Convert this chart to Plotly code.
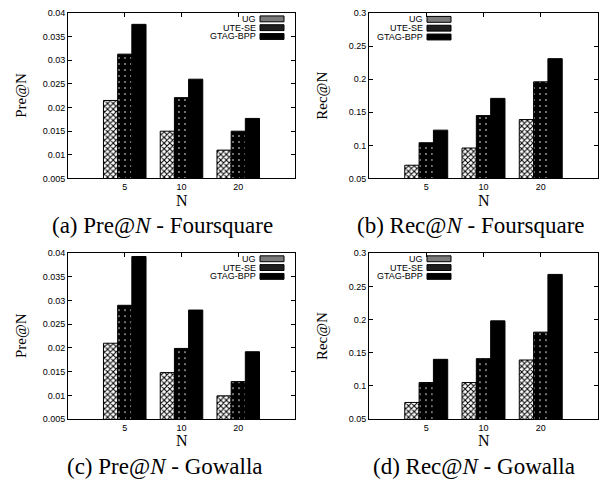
import plotly.graph_objects as go

# ---------------- data ----------------
N_labels = ["5", "10", "20"]
series = ["UG", "UTE-SE", "GTAG-BPP"]

pre_foursquare = {"UG": [0.0215, 0.0150, 0.0110],
                  "UTE-SE": [0.0313, 0.0221, 0.0150],
                  "GTAG-BPP": [0.0376, 0.0260, 0.0177]}
rec_foursquare = {"UG": [0.070, 0.096, 0.139],
                  "UTE-SE": [0.104, 0.145, 0.196],
                  "GTAG-BPP": [0.123, 0.171, 0.231]}
pre_gowalla = {"UG": [0.0210, 0.0148, 0.0099],
               "UTE-SE": [0.0290, 0.0199, 0.0129],
               "GTAG-BPP": [0.0393, 0.0280, 0.0192]}
rec_gowalla = {"UG": [0.075, 0.105, 0.139],
               "UTE-SE": [0.105, 0.141, 0.181],
               "GTAG-BPP": [0.140, 0.198, 0.268]}

pre_ticks = [0.005, 0.01, 0.015, 0.02, 0.025, 0.03, 0.035, 0.04]
pre_ticktext = ["0.005", "0.01", "0.015", "0.02", "0.025", "0.03", "0.035", "0.04"]
rec_ticks = [0.05, 0.1, 0.15, 0.2, 0.25, 0.3]
rec_ticktext = ["0.05", "0.1", "0.15", "0.2", "0.25", "0.3"]

captions = ["(a) Pre@<i>N</i> - Foursquare", "(b) Rec@<i>N</i> - Foursquare",
            "(c) Pre@<i>N</i> - Gowalla", "(d) Rec@<i>N</i> - Gowalla"]
ylabels = ["Pre@N", "Rec@N", "Pre@N", "Rec@N"]

# ---------------- styling ----------------
OFF = 8  # browser body margin
W, H = 608 - OFF, 487 - OFF
SANS = "Liberation Sans, Arial, sans-serif"
SERIF = "Liberation Serif, Times New Roman, serif"

patterns = {
    "UG": dict(shape="x", size=4, solidity=0.45, fgcolor="black", bgcolor="white", fillmode="replace"),
    "UTE-SE": dict(shape=".", size=6, solidity=0.08, fgcolor="#9a9a9a", bgcolor="black", fillmode="replace"),
    "GTAG-BPP": None,
}
swatch_fill = {"UG": "#7a7a7a", "UTE-SE": "#1e1e1e", "GTAG-BPP": "black"}

# panel geometry in page pixels: (left, right, top, bottom)
panels = [(68, 295, 8, 177), (369, 598, 8, 177),
          (68, 295, 253.3, 422.7), (369, 598, 253.3, 422.7)]
datasets = [pre_foursquare, rec_foursquare, pre_gowalla, rec_gowalla]
yspec = [(pre_ticks, pre_ticktext), (rec_ticks, rec_ticktext),
         (pre_ticks, pre_ticktext), (rec_ticks, rec_ticktext)]
legend_pos = [(258, 14), (425, 14.5), (258, 259), (425, 259)]
caption_x = [162, 471, 165, 474]

def clamp(v):
    return min(1.0, max(0.0, v))

def px_x(x):
    return (x - OFF) / W

def px_y(y):
    return 1 - (y - OFF) / H

fig = go.Figure()
xpos = [1, 2, 3]
annotations = []
shapes = []

def note(text, x, y, font, xanchor="center", yanchor="middle", angle=0):
    annotations.append(dict(text=text, x=px_x(x), y=px_y(y), xref="paper", yref="paper",
                            xanchor=xanchor, yanchor=yanchor, textangle=angle,
                            showarrow=False, font=font))

for i, (data, (l, r, t, b)) in enumerate(zip(datasets, panels)):
    ax = "" if i == 0 else str(i + 1)
    for s in series:
        marker = dict(color="black", line=dict(color="black", width=1))
        if patterns[s] is not None:
            marker["pattern"] = patterns[s]
        fig.add_trace(go.Bar(x=xpos, y=data[s], name=s, marker=marker,
                             xaxis="x" + ax, yaxis="y" + ax, showlegend=False,
                             offsetgroup=s))
    tv, tt = yspec[i]
    common = dict(showline=True, linecolor="black", linewidth=1, mirror="ticks",
                  ticks="inside", ticklen=4, tickcolor="black", showgrid=False,
                  zeroline=False, tickfont=dict(family=SANS, size=9, color="black"))
    fig.layout["xaxis" + ax] = dict(domain=[clamp(px_x(l)), clamp(px_x(r))], range=[0, 4],
                                    tickvals=xpos, ticktext=N_labels,
                                    anchor="y" + ax, **common)
    fig.layout["yaxis" + ax] = dict(domain=[clamp(px_y(b)), clamp(px_y(t))],
                                    range=[tv[0], tv[-1]],
                                    tickvals=tv, ticktext=tt,
                                    anchor="x" + ax, **common)
    note(ylabels[i], l - 47, (t + b) / 2, dict(family=SERIF, size=15, color="black"), angle=-90)
    note("N", (l + r) / 2, b + 22, dict(family=SERIF, size=16, color="black"))
    note(captions[i], caption_x[i], b + 48, dict(family=SERIF, size=23, color="black"))
    # legend
    tx, ty = legend_pos[i]
    for k, s in enumerate(series):
        yy = ty + 9 * k
        note(s, tx, yy, dict(family=SANS, size=9, color="black"), xanchor="right")
        shapes.append(dict(type="rect", xref="paper", yref="paper",
                           x0=px_x(tx + 2), x1=px_x(tx + 26),
                           y0=px_y(yy + 3), y1=px_y(yy - 3),
                           fillcolor=swatch_fill[s], line=dict(color="black", width=1)))

fig.update_layout(width=W, height=H, margin=dict(l=0, r=0, t=0, b=0),
                  paper_bgcolor="white", plot_bgcolor="white",
                  barmode="group", bargap=0.25, bargroupgap=0,
                  annotations=annotations, shapes=shapes, showlegend=False)

fig.write_html("out.html")
